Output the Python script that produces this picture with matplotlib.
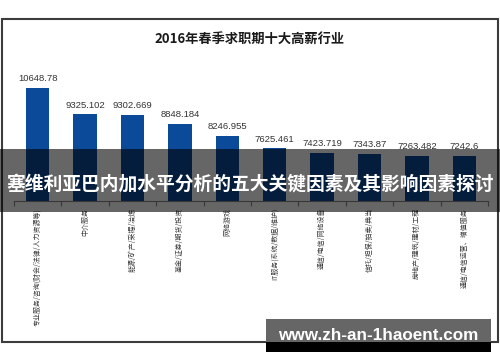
import matplotlib
matplotlib.use("Agg")
import matplotlib.pyplot as plt
from matplotlib.patches import Rectangle

plt.rcParams['font.family'] = ['Noto Sans CJK SC', 'DejaVu Sans']

title = "2016年春季求职期十大高薪行业"
categories = [
    "专业服务/咨询(财会/法律/人力资源等)",
    "中介服务",
    "能源/矿产/采掘/冶炼",
    "基金/证券/期货/投资",
    "网络游戏",
    "IT服务(系统/数据/维护)",
    "通信/电信/网络设备",
    "信托/担保/拍卖/典当",
    "房地产/建筑/建材/工程",
    "通信/电信运营、增值服务",
]
values = [10648.78, 9325.102, 9302.669, 8848.184, 8246.955,
          7625.461, 7423.719, 7343.87, 7263.482, 7242.6]
value_labels = ["10648.78", "9325.102", "9302.669", "8848.184", "8246.955",
                "7625.461", "7423.719", "7343.87", "7263.482", "7242.6"]
banner_text = "塞维利亚巴内加水平分析的五大关键因素及其影响因素探讨"
watermark = "www.zh-an-1haoent.com"

W, H = 500, 362
fig = plt.figure(figsize=(5, 3.62), dpi=100)
fig.patch.set_facecolor("white")

# outer chart frame
fig.add_artist(Rectangle((2 / W, 1 - 342 / H), 496 / W, 323 / H, transform=fig.transFigure,
                         fill=False, edgecolor="#3c3c3c", linewidth=1.5, zorder=1))

fig.text(250 / W, 1 - 39 / H, title, ha="center", va="center", fontsize=9.5,
         fontweight="bold", color="#1a1a1a")

ax = fig.add_axes([14 / W, 1 - 201 / H, 474 / W, 140 / H])
ax.set_zorder(2)
ax.patch.set_alpha(0)
x = list(range(len(values)))
bars = ax.bar(x, values, width=0.49, color="#0b4a98", zorder=2)
ax.set_xlim(-0.5, len(values) - 0.5)
ax.set_ylim(5000, 12000)
for s in ["top", "right", "left"]:
    ax.spines[s].set_visible(False)
ax.spines["bottom"].set_color("#8a8a8a")
ax.spines["bottom"].set_linewidth(0.8)
ax.set_yticks([])
ax.set_xticks(x)
ax.set_xticklabels(categories, rotation=90, fontsize=5, color="#3a3a3a", va="top", ha="center")
ax.tick_params(axis="x", which="major", length=0, pad=5)
ax.set_xticks([i - 0.5 for i in range(len(values) + 1)], minor=True)
ax.tick_params(axis="x", which="minor", length=3.5, direction="out", color="#8a8a8a", width=0.8)

for xi, v, lab in zip(x, values, value_labels):
    ax.annotate(lab, (xi, v), xytext=(0, 3.5), textcoords="offset points",
                ha="center", va="bottom", fontsize=6.8, color="#333333",
                family=["Liberation Sans", "DejaVu Sans"])

# dark translucent banner
fig.add_artist(Rectangle((0, 1 - 212 / H), 1, 63 / H, transform=fig.transFigure,
                         facecolor="black", alpha=0.6, edgecolor="none", zorder=5))
fig.text(250 / W, 1 - 184 / H, banner_text, ha="center", va="center", fontsize=13.5,
         fontweight="bold", color="white", zorder=6)

# watermark box
fig.add_artist(Rectangle((266 / W, 1 - 342 / H), 225 / W, 23 / H, transform=fig.transFigure,
                         facecolor="#666666", edgecolor="none", zorder=5))
fig.add_artist(Rectangle((266 / W, 1 - 352 / H), 225 / W, 10 / H, transform=fig.transFigure,
                         facecolor="black", edgecolor="none", zorder=5))
fig.text(378 / W, 1 - 335 / H, watermark, ha="center", va="center", fontsize=12.3,
         fontweight="bold", color="white", family=["Liberation Sans", "DejaVu Sans"], zorder=6)

fig.savefig("out.png", dpi=100)
